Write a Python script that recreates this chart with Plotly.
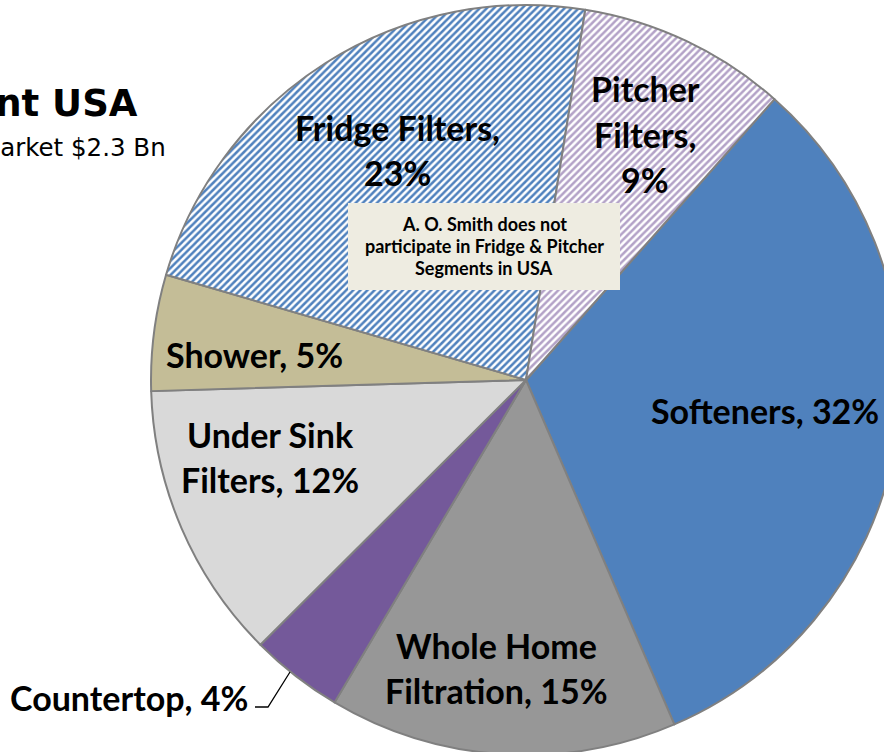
import plotly.graph_objects as go

# Water treatment segments, share of the USA market (%)
segments = ["Softeners", "Whole Home Filtration", "Countertop", "Under Sink Filters",
            "Shower", "Fridge Filters", "Pitcher Filters"]
shares = [32, 15, 4, 12, 5, 23, 9]
slice_colors = ["#4F81BD", "#979797", "#74599A", "#D9D9D9", "#C4BD97", "#FFFFFF", "#FFFFFF"]
stripe_shapes = ["", "", "", "", "", "/", "/"]
stripe_colors = ["#4F81BD", "#4F81BD", "#4F81BD", "#4F81BD", "#4F81BD", "#4F81BD", "#B3A2C7"]
# words per label line
label_wrap = [[3], [2, 2], [2], [2, 2], [2], [2, 1], [1, 1, 1]]

title_text = "Water Treatment USA"
subtitle_text = "Total Market $2.3 Bn"
note_lines = ["A. O. Smith does not", "participate in Fridge & Pitcher", "Segments in USA"]

# canvas is a little larger than the window so the pie runs off the right edge
W, H = 910, 760
CX, CY, R = 526, 380, 375
LABEL_FONT = "Lato"


def px(x, y):
    return x / W, 1 - y / H


fig = go.Figure(go.Pie(
    labels=segments,
    values=shares,
    sort=False,
    direction="clockwise",
    rotation=41.5,
    textinfo="none",
    hoverinfo="label+percent",
    marker=dict(
        colors=slice_colors,
        line=dict(color="#808080", width=2),
        pattern=dict(shape=stripe_shapes, fgcolor=stripe_colors, size=5, solidity=0.5,
                     fillmode="replace"),
    ),
    domain=dict(x=[(CX - R) / W, (CX + R) / W], y=[1 - (CY + R) / H, 1 - (CY - R) / H]),
    showlegend=False,
))

annotations = []


def add_text(x, y, text, size, bold=True, xanchor="center", family=LABEL_FONT, color="#000000"):
    ax, ay = px(x, y)
    annotations.append(dict(
        x=ax, y=ay, xref="paper", yref="paper", xanchor=xanchor, yanchor="middle",
        text=f"<b>{text}</b>" if bold else text, showarrow=False,
        font=dict(family=family, size=size, color=color),
    ))


# slice labels: (centre x, first line y)
label_pos = [(765, 410), (497, 645), (250, 697), (270, 434), (254, 355), (397, 127), (645, 89)]
LINE_GAP = 45
for seg, val, wrap, (lx, ly) in zip(segments, shares, label_wrap, label_pos):
    words = f"{seg}, {val}%".split()
    rows, i = [], 0
    for n in wrap:
        rows.append(" ".join(words[i:i + n]))
        i += n
    for k, row in enumerate(rows):
        anchor = "right" if seg == "Countertop" else "center"
        add_text(lx, ly + k * LINE_GAP, row, 34, xanchor=anchor)

# title block (partly off the left edge)
add_text(140, 103, title_text, 37, xanchor="right", family="DejaVu Sans")
add_text(168, 147, subtitle_text, 24.5, bold=False, xanchor="right", family="DejaVu Sans")

# note box
for k, line in enumerate(note_lines):
    add_text(484, 224 + k * 22, line, 18)

x0, y0 = px(348, 203)
x1, y1 = px(620, 290)
shapes = [
    dict(type="rect", xref="paper", yref="paper", x0=x0, y0=y1, x1=x1, y1=y0,
         fillcolor="#EEECE1", line=dict(width=0), layer="above"),
]
# leader line for the Countertop label
pts = [px(255, 707), px(268, 707), px(290, 672)]
path = "M " + " L ".join(f"{a},{b}" for a, b in pts)
shapes.append(dict(type="path", xref="paper", yref="paper", path=path,
                   line=dict(color="#000000", width=1.3), layer="above"))

fig.update_layout(
    width=W, height=H,
    margin=dict(l=0, r=0, t=0, b=0),
    paper_bgcolor="#FFFFFF",
    plot_bgcolor="#FFFFFF",
    annotations=annotations,
    shapes=shapes,
)

fig.write_html(
    "out.html",
    post_script="document.documentElement.style.overflow='hidden';"
                "document.body.style.overflow='hidden';document.body.style.margin='0';",
)
